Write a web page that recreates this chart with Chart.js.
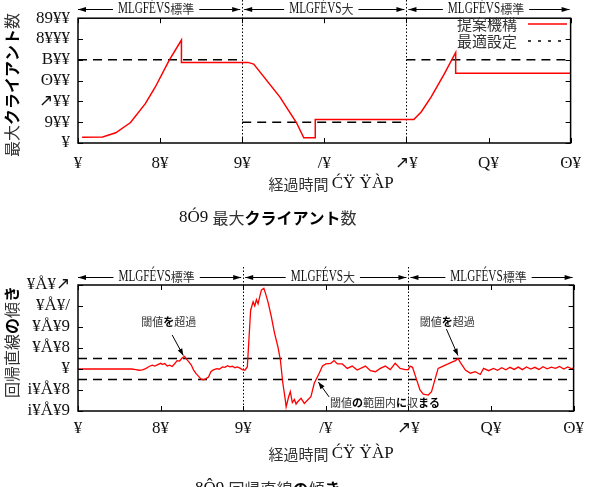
<!DOCTYPE html>
<html><head><meta charset="utf-8">
<script src="https://cdn.jsdelivr.net/npm/chart.js@4"></script>
<style>
html,body{margin:0;padding:0;background:#fff;overflow:hidden;}
#w{position:relative;width:591px;height:487px;}
canvas{position:absolute;left:0;}
</style></head><body>
<div id="w">
<canvas id="c1" width="591" height="243" style="top:0"></canvas>
<canvas id="c2" width="591" height="244" style="top:243px"></canvas>
</div>
<script>
// ---------- data ----------
const xTickValues = [0,10,20,30,40,50,60];
const xTickLabels = ['¥','8¥','9¥','/¥','↗¥','Q¥','ʘ¥'];
const topYTickValues = [0,200,400,600,800,1000,1200];
const topYTickLabels = ['¥','9¥¥','↗¥¥','ʘ¥¥','B¥¥','8¥¥¥','89¥¥'];
const botYTickValues = [-0.02,-0.01,0,0.01,0.02,0.03,0.04];
const botYTickLabels = ['i¥Å¥9','i¥Å¥8','¥','¥Å¥8','¥Å¥9','¥Å¥/','¥Å¥↗'];

const proposedTimes   = [0.5,3.0,4.6,6.4,8.2,9.4,11.1,12.6,12.6,20.7,21.4,24.6,25.4,26.6,27.5,28.9,28.9,40.9,41.8,43.0,44.6,46.0,46.0,60];
const proposedClients = [55,57,98,197,378,536,794,990,775,775,759,441,343,197,50,50,225,225,298,441,663,870,670,670];

const optimalTimes   = [0,20,20,20,40,40,40,60];
const optimalClients = [800,800,null,200,200,null,800,800];

const slopeTimes = [0,6.5,7.0,7.4,7.8,8.2,8.6,9.0,9.3,9.6,10.0,10.2,10.5,10.8,11.1,11.4,11.7,12.0,12.3,12.6,12.9,13.1,13.4,13.7,14.0,14.3,14.6,14.9,15.2,15.5,15.8,16.1,16.4,16.8,17.1,17.5,17.8,18.1,18.4,18.7,19.0,19.3,19.6,19.9,20.2,20.5,
 20.9,21.2,21.4,21.6,21.8,22.0,22.2,22.5,22.7,23.0,23.4,23.8,24.2,24.5,24.8,25.1,25.2,25.5,25.7,25.95,26.2,26.4,26.6,27.0,27.4,27.8,28.2,28.6,29.2,29.6,30.0,30.6,31.0,31.4,32.0,32.6,33.2,33.8,34.8,35.4,36.0,36.6,37.2,37.8,38.4,39.0,39.6,40.0,40.2,40.5,
 41.0,41.4,41.8,42.4,42.8,43.2,43.6,44.2,44.8,45.4,45.7,46.0,46.3,46.9,47.5,48.1,48.7,49.1,49.7,50.3,50.8,51.3,51.8,52.3,52.8,53.3,53.8,54.3,54.8,55.3,55.8,56.3,56.8,57.3,57.8,58.3,58.8,59.3,59.7,60];
const slopeValues = [0,0,-0.0003,-0.0006,-0.0004,0.0002,0.0012,0.0018,0.0014,0.0020,0.0027,0.0022,0.0026,0.0014,0.0018,0.0012,0.0025,0.0040,0.0038,0.0052,0.0060,0.0048,0.0035,0.0020,-0.0005,-0.0022,-0.0035,-0.0048,-0.0052,-0.0046,-0.0038,-0.0012,-0.0004,0.0002,-0.0001,0.0010,0.0008,0.0016,0.0010,0.0013,0.0006,0.0010,0.0004,-0.0003,-0.0006,0.0010,
 0.028,0.032,0.030,0.033,0.031,0.0345,0.0376,0.0384,0.036,0.032,0.025,0.017,0.0106,0.0043,-0.0068,-0.0148,-0.018,-0.0132,-0.0108,-0.016,-0.0145,-0.0167,-0.0156,-0.014,-0.0164,-0.0148,-0.0132,-0.0068,-0.002,0.0014,0.0024,0.0027,0.0040,0.0024,0.0024,0.0003,0.0014,-0.0005,0.0014,-0.0008,-0.0013,0.0003,0.0014,-0.0003,0.0027,0.0003,-0.0003,-0.0003,0.0014,0.0008,
 -0.0052,-0.0100,-0.0120,-0.0124,-0.0108,-0.0052,0.0003,0.0014,0.0024,0.0035,0.0040,0.0050,0.0030,-0.0005,-0.0020,-0.0013,-0.0026,0.0003,-0.0008,0.0003,-0.0006,0.0006,-0.0004,0.0008,-0.0002,0.0009,-0.0003,0.0010,0.0000,0.0008,-0.0002,0.0011,0.0001,0.0009,0.0003,0.0012,0.0000,0.0010,0.0002,0.0004];

const thresholdUpper = 0.005;
const thresholdLower = -0.005;
const phaseBounds = [0,20,40,60];
const phaseNames  = ['標準','大','標準'];
const phasePrefix = 'MLGFÉVS';

// ---------- helpers ----------
const JP = '"Noto Sans CJK JP"';
const SERIF = '"Liberation Serif"';
function labelFor(vals, labels, v){
  const i = vals.findIndex(t => Math.abs(t - v) < 1e-9);
  return i >= 0 ? labels[i] : '';
}
function drawSegs(ctx, segs, x, y, align){
  let w = 0;
  segs.forEach(s => { ctx.font = s.f; s.w = ctx.measureText(s.t).width * (s.sx || 1); w += s.w; });
  let cx = align === 'center' ? x - w/2 : (align === 'right' ? x - w : x);
  ctx.textBaseline = 'middle'; ctx.textAlign = 'left';
  segs.forEach(s => {
    ctx.font = s.f; ctx.fillStyle = s.c || '#222';
    ctx.save(); ctx.translate(cx, y); ctx.scale(s.sx || 1, 1); ctx.fillText(s.t, 0, 0); ctx.restore();
    cx += s.w;
  });
  return w;
}
function arrowHead(ctx, x, y, ang, len, half){
  ctx.save(); ctx.translate(x, y); ctx.rotate(ang);
  ctx.beginPath(); ctx.moveTo(0,0); ctx.lineTo(-len, -half); ctx.lineTo(-len, half); ctx.closePath();
  ctx.fillStyle = '#000'; ctx.fill(); ctx.restore();
}
function arrow(ctx, x1, y1, x2, y2){
  ctx.save(); ctx.strokeStyle = '#000'; ctx.lineWidth = 1;
  ctx.beginPath(); ctx.moveTo(x1, y1); ctx.lineTo(x2, y2); ctx.stroke();
  arrowHead(ctx, x2, y2, Math.atan2(y2 - y1, x2 - x1), 7, 2.5);
  ctx.restore();
}
function frameTicks(chart, yVals){
  const {ctx, chartArea:a, scales:{x, y}} = chart;
  ctx.save(); ctx.strokeStyle = '#000'; ctx.lineWidth = 1;
  ctx.beginPath();
  xTickValues.forEach(v => { const p = Math.round(x.getPixelForValue(v)) + 0.5;
    ctx.moveTo(p, a.bottom); ctx.lineTo(p, a.bottom - 5); ctx.moveTo(p, a.top); ctx.lineTo(p, a.top + 5); });
  yVals.forEach(v => { const p = Math.round(y.getPixelForValue(v)) + 0.5;
    ctx.moveTo(a.left, p); ctx.lineTo(a.left + 5, p); ctx.moveTo(a.right, p); ctx.lineTo(a.right - 5, p); });
  ctx.stroke();
  ctx.lineWidth = 1.5;
  ctx.strokeRect(a.left, a.top, a.right - a.left, a.bottom - a.top);
  ctx.restore();
}
function dividers(chart, yTop){
  const {ctx, chartArea:a, scales:{x}} = chart;
  ctx.save(); ctx.strokeStyle = '#000'; ctx.lineWidth = 1; ctx.setLineDash([1.5, 2]);
  [20, 40].forEach(v => { const p = Math.round(x.getPixelForValue(v)) + 0.5;
    ctx.beginPath(); ctx.moveTo(p, yTop); ctx.lineTo(p, a.bottom); ctx.stroke(); });
  ctx.restore();
}
function phaseArrows(chart, yy){
  const {ctx, scales:{x}} = chart;
  for (let i = 0; i < 3; i++){
    const x0 = x.getPixelForValue(phaseBounds[i]) + (i > 0 ? 2 : 0);
    const x1 = x.getPixelForValue(phaseBounds[i+1]) - (i < 2 ? 2 : 1);
    const cx = (x0 + x1) / 2 - 3;
    const w = drawSegs(ctx, [
      {t: phasePrefix, f: '16px ' + SERIF, sx: 0.7, c: '#111'},
      {t: phaseNames[i], f: '12px ' + JP, c: '#333'}], cx, yy, 'center');
    ctx.save(); ctx.strokeStyle = '#000'; ctx.lineWidth = 1;
    ctx.beginPath();
    ctx.moveTo(x0, yy + 0.5); ctx.lineTo(cx - w/2 - 5, yy + 0.5);
    ctx.moveTo(cx + w/2 + 5, yy + 0.5); ctx.lineTo(x1, yy + 0.5);
    ctx.stroke(); ctx.restore();
    arrowHead(ctx, x0, yy + 0.5, Math.PI, 8, 2.5);
    arrowHead(ctx, x1, yy + 0.5, 0, 8, 2.5);
  }
}

function baseOptions(yMin, yMax, yVals, yLabels, padTop, xHeight, xPad){
  return {
    responsive: false, animation: false, events: [],
    layout: {padding: {left: 0, right: 12, top: padTop, bottom: 0}},
    plugins: {legend: {display: false}, tooltip: {enabled: false}},
    elements: {point: {radius: 0}, line: {tension: 0}},
    scales: {
      x: {type: 'linear', min: 0, max: 60,
        afterBuildTicks: s => { s.ticks = xTickValues.map(v => ({value: v})); },
        afterFit: s => { s.height = xHeight; },
        grid: {display: false, drawTicks: false}, border: {display: false},
        ticks: {autoSkip: false, maxRotation: 0, padding: xPad, color: '#111', font: {family: 'Liberation Serif', size: 17},
          callback: v => labelFor(xTickValues, xTickLabels, v)}},
      y: {type: 'linear', min: yMin, max: yMax,
        afterBuildTicks: s => { s.ticks = yVals.map(v => ({value: v})); },
        afterFit: s => { s.width = 78; },
        grid: {display: false, drawTicks: false}, border: {display: false},
        ticks: {autoSkip: false, padding: 8, color: '#111', font: {family: 'Liberation Serif', size: 17},
          callback: v => labelFor(yVals, yLabels, v)}}
    }
  };
}

// ---------- chart (a) ----------
const topPlugin = {
  id: 'topDecor',
  beforeDatasetsDraw(chart){ dividers(chart, 0); },
  afterDatasetsDraw(chart){
    const ctx = chart.ctx;
    frameTicks(chart, topYTickValues);
    phaseArrows(chart, 9);
    drawSegs(ctx, [{t: '提案機構', f: '15px ' + JP, c: '#333'}], 457, 24, 'left');
    drawSegs(ctx, [{t: '最適設定', f: '15px ' + JP, c: '#333'}], 457, 41, 'left');
    ctx.save();
    ctx.strokeStyle = '#ff0000'; ctx.lineWidth = 1.5;
    ctx.beginPath(); ctx.moveTo(528, 24); ctx.lineTo(567, 24); ctx.stroke();
    ctx.strokeStyle = '#000'; ctx.lineWidth = 1.5; ctx.setLineDash([3, 7]);
    ctx.beginPath(); ctx.moveTo(528, 41); ctx.lineTo(567, 41); ctx.stroke();
    ctx.restore();
    drawSegs(ctx, [{t: '経過時間 ', f: '15px ' + JP, c: '#333'}, {t: 'ĆŸ ŸÀP', f: '17px ' + SERIF, c: '#111'}], 331, 184, 'center');
    ctx.save(); ctx.translate(12, 85); ctx.rotate(-Math.PI/2);
    drawSegs(ctx, [{t: '最大', f: '16px ' + JP, c: '#333'}, {t: 'クライアント', f: 'bold 16px ' + JP, c: '#000'}, {t: '数', f: '16px ' + JP, c: '#333'}], 0, 0, 'center');
    ctx.restore();
    drawSegs(ctx, [{t: '8Ó9 ', f: '17px ' + SERIF, c: '#111'}, {t: '最大', f: '16px ' + JP, c: '#333'}, {t: 'クライアント', f: 'bold 16px ' + JP, c: '#000'}, {t: '数', f: '16px ' + JP, c: '#333'}], 179, 218, 'left');
  }
};

new Chart(document.getElementById('c1'), {
  type: 'line',
  data: {datasets: [
    {label: '提案機構', data: proposedTimes.map((t, i) => ({x: t, y: proposedClients[i]})),
      borderColor: '#ff0000', borderWidth: 1.5, fill: false},
    {label: '最適設定', data: optimalTimes.map((t, i) => ({x: t, y: optimalClients[i]})),
      borderColor: '#000', borderWidth: 1.5, borderDash: [9, 6], spanGaps: false, fill: false}
  ]},
  options: baseOptions(0, 1200, topYTickValues, topYTickLabels, 17, 100, 10),
  plugins: [topPlugin]
});

// ---------- chart (b) ----------
const botPlugin = {
  id: 'botDecor',
  beforeDatasetsDraw(chart){ dividers(chart, 24); },
  afterDatasetsDraw(chart){
    const ctx = chart.ctx; const {x, y} = chart.scales;
    frameTicks(chart, botYTickValues);
    phaseArrows(chart, 34);
    const note = '11px ' + JP, noteB = 'bold 11px ' + JP;
    drawSegs(ctx, [{t: '閾値', f: note, c: '#333'}, {t: 'を', f: noteB, c: '#000'}, {t: '超過', f: note, c: '#333'}], x.getPixelForValue(11.0), y.getPixelForValue(0.0224), 'center');
    arrow(ctx, x.getPixelForValue(11.4), y.getPixelForValue(0.0162), x.getPixelForValue(12.75), y.getPixelForValue(0.0064));
    drawSegs(ctx, [{t: '閾値', f: note, c: '#333'}, {t: 'を', f: noteB, c: '#000'}, {t: '超過', f: note, c: '#333'}], x.getPixelForValue(44.7), y.getPixelForValue(0.0224), 'center');
    arrow(ctx, x.getPixelForValue(44.6), y.getPixelForValue(0.0190), x.getPixelForValue(46.0), y.getPixelForValue(0.0064));
    drawSegs(ctx, [{t: '閾値', f: note, c: '#333'}, {t: 'の', f: noteB, c: '#000'}, {t: '範囲内', f: note, c: '#333'}, {t: 'に', f: noteB, c: '#000'}, {t: '収', f: note, c: '#333'}, {t: 'まる', f: noteB, c: '#000'}], x.getPixelForValue(30.5), y.getPixelForValue(-0.0162), 'left');
    arrow(ctx, x.getPixelForValue(30.4), y.getPixelForValue(-0.0133), x.getPixelForValue(29.1), y.getPixelForValue(-0.0062));
    drawSegs(ctx, [{t: '経過時間 ', f: '15px ' + JP, c: '#333'}, {t: 'ĆŸ ŸÀP', f: '17px ' + SERIF, c: '#111'}], 331, 211, 'center');
    ctx.save(); ctx.translate(12, 99); ctx.rotate(-Math.PI/2);
    drawSegs(ctx, [{t: '回帰直線', f: '16px ' + JP, c: '#333'}, {t: 'の', f: 'bold 16px ' + JP, c: '#000'}, {t: '傾', f: '16px ' + JP, c: '#333'}, {t: 'き', f: 'bold 16px ' + JP, c: '#000'}], 0, 0, 'center');
    ctx.restore();
    drawSegs(ctx, [{t: '8Ô9 ', f: '17px ' + SERIF, c: '#111'}, {t: '回帰直線', f: '16px ' + JP, c: '#333'}, {t: 'の', f: 'bold 16px ' + JP, c: '#000'}, {t: '傾', f: '16px ' + JP, c: '#333'}, {t: 'き', f: 'bold 16px ' + JP, c: '#000'}], 195, 246, 'left');
  }
};

new Chart(document.getElementById('c2'), {
  type: 'line',
  data: {datasets: [
    {label: '回帰直線の傾き', data: slopeTimes.map((t, i) => ({x: t, y: slopeValues[i]})),
      borderColor: '#ff0000', borderWidth: 1.3, fill: false},
    {label: '上限', data: [{x: 0, y: thresholdUpper}, {x: 60, y: thresholdUpper}],
      borderColor: '#000', borderWidth: 1.5, borderDash: [9, 6], fill: false},
    {label: '下限', data: [{x: 0, y: thresholdLower}, {x: 60, y: thresholdLower}],
      borderColor: '#000', borderWidth: 1.5, borderDash: [9, 6], fill: false}
  ]},
  options: baseOptions(-0.02, 0.04, botYTickValues, botYTickLabels, 42, 76, 7),
  plugins: [botPlugin]
});
</script>
</body></html>
